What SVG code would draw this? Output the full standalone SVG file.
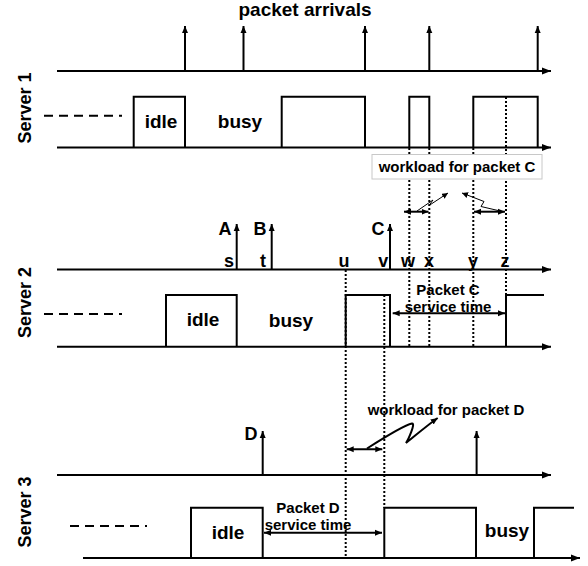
<svg xmlns="http://www.w3.org/2000/svg" width="588" height="566" viewBox="0 0 588 566">
<style>
.ax{stroke:#000;stroke-width:2;fill:none;marker-end:url(#axh)}
.arr{stroke:#000;stroke-width:2;fill:none;marker-end:url(#ah)}
.wave{stroke:#000;stroke-width:2;fill:none;stroke-linejoin:miter}
.dot{stroke:#000;stroke-width:2;fill:none;stroke-dasharray:2 2}
.dash{stroke:#000;stroke-width:2;fill:none;stroke-dasharray:9 6}
.dbl{stroke:#000;stroke-width:2;fill:none;marker-start:url(#ah2);marker-end:url(#ah2)}
.zz{stroke:#000;stroke-width:1;fill:none;marker-end:url(#ah3)}
.zz2{stroke:#000;stroke-width:2;fill:none;marker-end:url(#ah)}
text{font-family:"Liberation Sans",Arial,sans-serif;font-weight:bold;fill:#000}
.big{font-size:19px;text-anchor:middle}
.lab{font-size:18px;text-anchor:middle}
.sm{font-size:15px;text-anchor:middle}
</style>
<defs>
<marker id="axh" markerUnits="userSpaceOnUse" markerWidth="10" markerHeight="8" refX="9" refY="4" orient="auto"><path d="M0,0.5 L9,4 L0,7.5 Z" fill="#000"/></marker>
<marker id="ah" markerUnits="userSpaceOnUse" markerWidth="8" markerHeight="8" refX="7" refY="3.5" orient="auto"><path d="M0,0.5 L7,3.5 L0,6.5 Z" fill="#000"/></marker>
<marker id="ah2" markerUnits="userSpaceOnUse" markerWidth="8" markerHeight="8" refX="7" refY="3.5" orient="auto-start-reverse"><path d="M0,0.5 L7,3.5 L0,6.5 Z" fill="#000"/></marker>
<marker id="ah3" markerUnits="userSpaceOnUse" markerWidth="8" markerHeight="8" refX="6" refY="3" orient="auto"><path d="M0,0 L6,3 L0,6 Z" fill="#000"/></marker>
</defs>

<g id="title"><text class="big" x="305" y="16">packet arrivals</text></g>

<g id="server1">
<text class="lab" transform="translate(30.5,108) rotate(-90)">Server 1</text>
<line class="ax" x1="57" y1="71" x2="551" y2="71"/>
<line class="arr" x1="185" y1="71" x2="185" y2="26"/>
<line class="arr" x1="243.5" y1="71" x2="243.5" y2="26"/>
<line class="arr" x1="365" y1="71" x2="365" y2="26"/>
<line class="arr" x1="429.3" y1="71" x2="429.3" y2="26"/>
<line class="arr" x1="537.7" y1="71" x2="537.7" y2="26"/>
<line class="ax" x1="57" y1="147.5" x2="551" y2="147.5"/>
<path class="wave" d="M133.7,147.5 V96.7 H185 V147.5 M281.7,147.5 V96.7 H365 V147.5 M409.3,147.5 V96.7 H429.3 V147.5 M473.3,147.5 V96.7 H537.7 V147.5"/>
<line class="dash" x1="44" y1="115.7" x2="122" y2="115.7"/>
<text class="big" x="161" y="128">idle</text>
<text class="big" x="240" y="128">busy</text>
</g>

<g id="server2">
<text class="lab" transform="translate(30.5,302.5) rotate(-90)">Server 2</text>
<line class="ax" x1="57" y1="269.5" x2="551" y2="269.5"/>
<line class="arr" x1="236.7" y1="269.5" x2="236.7" y2="224"/>
<line class="arr" x1="271.7" y1="269.5" x2="271.7" y2="224"/>
<line class="arr" x1="390" y1="269.5" x2="390" y2="224"/>
<text class="lab" x="225" y="235">A</text>
<text class="lab" x="260" y="235">B</text>
<text class="lab" x="378" y="235">C</text>
<text class="lab" x="229" y="266.7">s</text>
<text class="lab" x="263" y="266.7">t</text>
<text class="lab" x="344" y="266.7">u</text>
<text class="lab" x="383.3" y="266.7">v</text>
<text class="lab" x="408" y="266.7">w</text>
<text class="lab" x="429" y="266.7">x</text>
<text class="lab" x="473" y="266.7">y</text>
<text class="lab" x="505" y="266.7">z</text>
<line class="ax" x1="57" y1="346.7" x2="551" y2="346.7"/>
<path class="wave" d="M166,346.7 V295 H236.7 V346.7 M345.7,346.7 V295 H390 V346.7 M506,346.7 V295 H544"/>
<line class="dash" x1="44" y1="314" x2="122" y2="314"/>
<text class="big" x="203" y="326">idle</text>
<text class="big" x="291" y="326.7">busy</text>
</g>

<g id="server3">
<text class="lab" transform="translate(30.5,512) rotate(-90)">Server 3</text>
<line class="ax" x1="57" y1="475" x2="551" y2="475"/>
<line class="arr" x1="262.7" y1="475" x2="262.7" y2="431"/>
<line class="arr" x1="476.6" y1="475" x2="476.6" y2="431"/>
<text class="lab" x="251" y="440">D</text>
<line class="ax" x1="83" y1="558" x2="580" y2="558"/>
<path class="wave" d="M191,558 V507.7 H262.7 V558 M384.3,558 V507.7 H476 V558 M534,558 V507.7 H574"/>
<line class="dash" x1="70" y1="526" x2="147" y2="526"/>
<text class="big" x="228" y="539">idle</text>
<text class="big" x="507" y="537">busy</text>
</g>

<g id="connectors">
<line class="dot" x1="409.3" y1="148" x2="409.3" y2="347"/>
<line class="dot" x1="429.3" y1="148" x2="429.3" y2="347"/>
<line class="dot" x1="473.3" y1="148" x2="473.3" y2="347"/>
<line class="dot" x1="506" y1="97" x2="506" y2="295"/>
<line class="dot" x1="345.7" y1="270" x2="345.7" y2="558"/>
<line class="dot" x1="384.3" y1="295" x2="384.3" y2="508"/>
<line class="dbl" x1="404" y1="211.7" x2="428.5" y2="211.7"/>
<line class="dbl" x1="474" y1="211.7" x2="505" y2="211.7"/>
<path class="zz" d="M417,211 L433,200 L429,205.5 L448,193"/>
<path class="zz" d="M498,210.5 L481,206.5 L484,201.5 L462,193"/>
<line class="dbl" x1="392.7" y1="313.3" x2="505" y2="313.3"/>
<line class="dbl" x1="346.7" y1="449.3" x2="382.3" y2="449.3"/>
<path class="zz2" d="M367,448.5 C385,437 405,425 412,423.5 C416,423 408,440 406,443 C415,436 425,427 437.7,418"/>
<line class="dbl" x1="264" y1="532.7" x2="382" y2="532.7"/>
</g>

<g id="workloadC">
<rect x="372" y="154.5" width="170" height="24.5" fill="#fff" stroke="#c8c8c8" stroke-width="1"/>
<text class="sm" x="457" y="172">workload for packet C</text>
</g>

<g id="labels">
<text class="sm" x="448" y="295">Packet C</text>
<text class="sm" x="448" y="311.7">service time</text>
<text class="sm" x="446" y="415">workload for packet D</text>
<text class="sm" x="308" y="512.7">Packet D</text>
<text class="sm" x="308" y="530">service time</text>
</g>
</svg>
